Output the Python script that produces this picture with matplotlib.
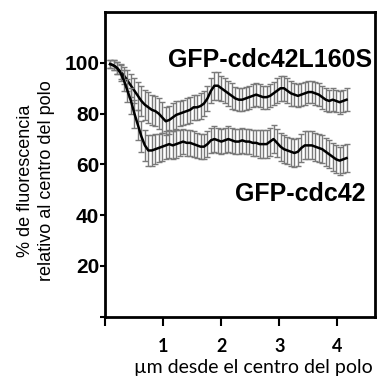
import numpy as np
import matplotlib
matplotlib.use("Agg")
import matplotlib.pyplot as plt

# distancia desde el centro del polo (um)
dist = [0.08, 0.14, 0.20, 0.26, 0.32, 0.38, 0.44, 0.50, 0.56, 0.62,
        0.68, 0.74, 0.80, 0.86, 0.92, 0.98, 1.04, 1.10, 1.16, 1.22,
        1.28, 1.34, 1.40, 1.46, 1.52, 1.58, 1.64, 1.70, 1.76, 1.82,
        1.88, 1.94, 2.00, 2.06, 2.12, 2.18, 2.24, 2.30, 2.36, 2.42,
        2.48, 2.54, 2.60, 2.66, 2.72, 2.78, 2.84, 2.90, 2.96, 3.02,
        3.08, 3.14, 3.20, 3.26, 3.32, 3.38, 3.44, 3.50, 3.56, 3.62,
        3.68, 3.74, 3.80, 3.86, 3.92, 3.98, 4.04, 4.10, 4.16]

# GFP-cdc42L160S
mut = [99.5, 99, 98, 96.5, 95, 93, 91, 89, 87, 85,
       83.5, 82.5, 81.5, 81, 80, 78.5, 77, 77.5, 78.5, 79.5,
       80, 80.5, 81, 81.5, 82.5, 82.5, 83, 84, 86, 89,
       91, 91, 90, 89, 88, 87, 86, 85.5, 85.5, 86,
       86.5, 87, 87.5, 87, 86.5, 86.5, 87, 88, 89, 90,
       90, 89, 88, 87.5, 87, 87.5, 88, 88.5, 88.5, 88,
       87.5, 86.5, 85.5, 85, 85.5, 85, 84.5, 85, 85.5]
mut_err = [1.5, 2, 2.5, 3, 3.5, 4, 4.5, 5, 5.5, 6,
           6, 6, 6, 6, 6, 6, 5.5, 5.5, 5.5, 5.5,
           5, 5, 5, 5, 5, 5, 5, 5, 5, 5,
           5.5, 5.5, 5, 5, 5, 5, 4.5, 4.5, 4.5, 4.5,
           4.5, 4.5, 4.5, 4.5, 4.5, 4.5, 4.5, 4.5, 5, 5,
           5, 5, 5, 4.5, 4.5, 4.5, 4.5, 4.5, 4.5, 4.5,
           4.5, 4.5, 4.5, 4.5, 4.5, 4.5, 4.5, 4.5, 4.5]

# GFP-cdc42
wt = [99.5, 99, 98, 96, 93, 89, 85, 80, 75.5, 71,
      67.5, 65.5, 65.5, 66, 66.5, 67, 67.5, 68, 67.5, 68,
      68.5, 69, 68.5, 68.5, 68, 67.5, 67, 67, 68, 69.5,
      70, 69.5, 69, 69.5, 70, 69.5, 69, 69, 69.5, 69,
      69, 68.5, 68.5, 68, 68, 68, 69, 70, 68.5, 67,
      66, 65.5, 65, 64.5, 65, 66.5, 67.5, 67.5, 67.5, 67,
      66.5, 66, 65, 64, 63, 62, 61.5, 62, 62.5]
wt_err = [1.5, 2, 2.5, 3, 4, 4.5, 5, 5.5, 6, 6,
          6, 6, 6, 6, 5.5, 5.5, 5.5, 5.5, 5.5, 5.5,
          5, 5, 5, 5, 5, 5, 5, 5, 5, 5,
          5, 5, 5, 5, 5, 5, 5, 5, 5, 5,
          5, 5, 5, 5.5, 5.5, 5.5, 5.5, 5.5, 5.5, 5.5,
          5.5, 5.5, 5.5, 5.5, 5.5, 5.5, 5.5, 5.5, 5.5, 5.5,
          5.5, 5.5, 5.5, 5.5, 5.5, 5.5, 5.5, 5.5, 5.5]

yticks = [0, 20, 40, 60, 80, 100]
ylabels = ['', '20', '40', '60', '80', '100']
xticks = [0, 1, 2, 3, 4]
xlabels = ['', '1', '2', '3', '4']

fig = plt.figure(figsize=(3.78, 3.78), dpi=100)
ax = fig.add_axes([0.279, 0.162, 0.713, 0.806])

for y, e in [(mut, mut_err), (wt, wt_err)]:
    ax.errorbar(dist, y, yerr=e, fmt='none', ecolor='#7a7a7a',
                elinewidth=1, capsize=2.5, capthick=1)
    ax.plot(dist, y, color='black', lw=1.8)

ax.set_xlim(0, 4.65)
ax.set_ylim(0, 120)

for s in ax.spines.values():
    s.set_linewidth(2)

ax.set_yticks(yticks)
ax.set_yticklabels(ylabels, fontfamily='Liberation Sans', fontweight='bold',
                   fontsize=15)
ax.set_xticks(xticks)
ax.set_xticklabels(xlabels, fontfamily='Lato', fontweight='bold', fontsize=13)
ax.tick_params(axis='y', direction='out', length=3.5, width=1.5, pad=1)
ax.tick_params(axis='x', direction='out', length=6.5, width=1.5, pad=9)

ax.text(1.08, 101, 'GFP-cdc42L160S', fontfamily='Liberation Sans',
        fontweight='bold', fontsize=18, ha='left', va='center')
ax.text(2.24, 48.5, 'GFP-cdc42', fontfamily='Liberation Sans',
        fontweight='bold', fontsize=18, ha='left', va='center')

fig.text(36 / 378, 1 - 181 / 378,
         '% de fluorescencia\nrelativo al centro del polo',
         rotation=90, ha='center', va='center', multialignment='center',
         fontfamily='Liberation Sans', fontsize=13, linespacing=1.35)
fig.text(253 / 378, 1 - 368 / 378, 'µm desde el centro del polo',
         ha='center', va='center', fontfamily='Lato', fontsize=14)

fig.savefig('out.png', dpi=100)
